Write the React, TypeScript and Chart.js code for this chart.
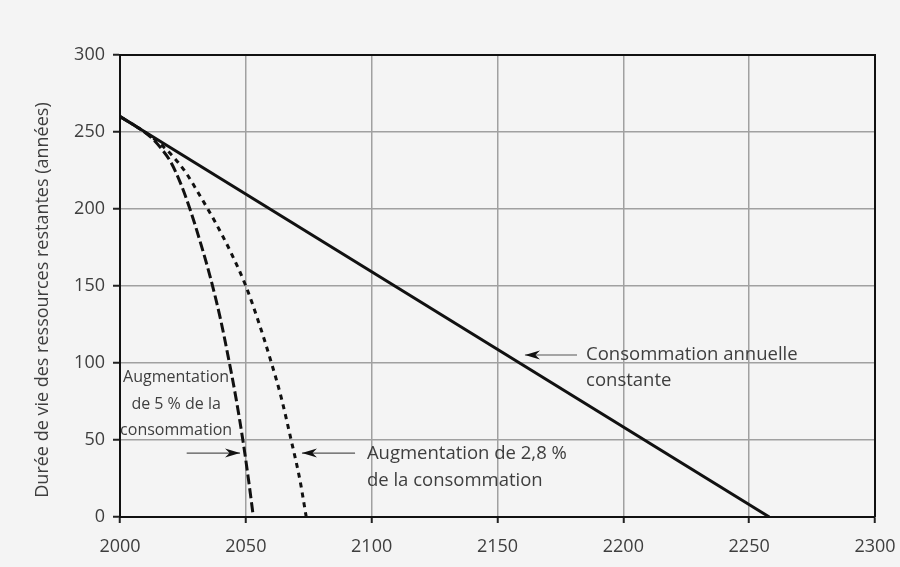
import React, { useEffect, useRef } from "react";
import { Chart, registerables } from "chart.js";

Chart.register(...registerables);

// ---- data ----
const xTickValues = [2000, 2050, 2100, 2150, 2200, 2250, 2300];
const yTickValues = [0, 50, 100, 150, 200, 250, 300];

const constYears = [2000, 2258];
const constValues = [260, 0];

const g5Years = [2000, 2006, 2012, 2016, 2020, 2024, 2028, 2032, 2036, 2040, 2043, 2046, 2049, 2051, 2053];
const g5Values = [260, 254, 247, 240, 231, 217, 199, 178, 155, 128, 104, 78, 48, 25, 0];

const g28Years = [2000, 2008, 2014, 2020, 2026, 2032, 2038, 2044, 2050, 2055, 2060, 2064, 2068, 2071.5, 2074];
const g28Values = [260, 252, 245, 236, 224, 208, 191, 172, 150, 127, 101, 78, 50, 24, 0];

const yTitle = "Durée de vie des ressources restantes (années)";

const FONT = "'Open Sans', 'DejaVu Sans', sans-serif";
const TEXT_COLOR = "#3e3e3e";

function toPoints(xs: number[], ys: number[]) {
  return xs.map((x, i) => ({ x, y: ys[i] }));
}

function drawArrow(ctx: CanvasRenderingContext2D, x1: number, y1: number, x2: number, y2: number) {
  ctx.save();
  ctx.strokeStyle = "#555";
  ctx.lineWidth = 1.2;
  ctx.beginPath();
  ctx.moveTo(x1, y1);
  ctx.lineTo(x2, y2);
  ctx.stroke();
  const dir = Math.sign(x2 - x1) || 1;
  const len = 15;
  const hw = 4.5;
  ctx.fillStyle = "#111";
  ctx.beginPath();
  ctx.moveTo(x2, y2);
  ctx.lineTo(x2 - dir * len, y2 - hw);
  ctx.lineTo(x2 - dir * len * 0.7, y2);
  ctx.lineTo(x2 - dir * len, y2 + hw);
  ctx.closePath();
  ctx.fill();
  ctx.restore();
}

const overlayPlugin = {
  id: "overlay",
  beforeDraw(chart: any) {
    const ctx = chart.ctx;
    ctx.save();
    ctx.fillStyle = "#f4f4f4";
    ctx.fillRect(0, 0, chart.width, chart.height);
    ctx.restore();
  },
  afterDraw(chart: any) {
    const ctx: CanvasRenderingContext2D = chart.ctx;
    const { left, right, top, bottom } = chart.chartArea;
    const xs = chart.scales.x;
    const ys = chart.scales.y;
    const px = (v: number) => xs.getPixelForValue(v);
    const py = (v: number) => ys.getPixelForValue(v);

    // frame (top and right borders)
    ctx.save();
    ctx.strokeStyle = "#111";
    ctx.lineWidth = 2;
    ctx.beginPath();
    ctx.moveTo(left, top);
    ctx.lineTo(right, top);
    ctx.lineTo(right, bottom);
    ctx.stroke();
    ctx.restore();

    // y title
    ctx.save();
    ctx.translate(43, 300);
    ctx.rotate(-Math.PI / 2);
    ctx.fillStyle = TEXT_COLOR;
    ctx.font = `18px ${FONT}`;
    ctx.textAlign = "center";
    ctx.textBaseline = "middle";
    ctx.fillText(yTitle, 0, 0);
    ctx.restore();

    // annotations
    ctx.save();
    ctx.fillStyle = TEXT_COLOR;
    ctx.textBaseline = "middle";

    ctx.font = `18.5px ${FONT}`;
    ctx.textAlign = "left";
    ctx.fillText("Consommation annuelle", px(2185.2), py(105.2));
    ctx.fillText("constante", px(2185.2), py(88.3));

    ctx.fillText("Augmentation de 2,8 %", px(2098.1), py(40.9));
    ctx.fillText("de la consommation", px(2098.1), py(23.4));

    ctx.font = `16px ${FONT}`;
    ctx.textAlign = "center";
    ctx.fillText("Augmentation", px(2022.3), py(90.9));
    ctx.fillText("de 5 % de la", px(2022.3), py(73.4));
    ctx.fillText("consommation", px(2022.3), py(56.5));
    ctx.restore();

    drawArrow(ctx, px(2181.6), py(105.2), px(2160.9), py(105.2));
    drawArrow(ctx, px(2026.5), py(41.5), px(2047.7), py(41.5));
    drawArrow(ctx, px(2093.4), py(41.5), px(2072.3), py(41.5));
  },
};

export default function App() {
  const ref = useRef<HTMLCanvasElement | null>(null);

  useEffect(() => {
    document.body.style.margin = "0";
    const canvas = ref.current;
    if (!canvas) return;
    const chart = new Chart(canvas, {
      type: "line",
      data: {
        datasets: [
          {
            label: "Consommation annuelle constante",
            data: toPoints(constYears, constValues),
            borderColor: "#111",
            borderWidth: 3,
            pointRadius: 0,
            tension: 0,
          },
          {
            label: "Augmentation de 5 %",
            data: toPoints(g5Years, g5Values),
            borderColor: "#111",
            borderWidth: 3,
            borderDash: [10, 4],
            pointRadius: 0,
            cubicInterpolationMode: "monotone",
          },
          {
            label: "Augmentation de 2,8 %",
            data: toPoints(g28Years, g28Values),
            borderColor: "#111",
            borderWidth: 3,
            borderDash: [5, 5],
            pointRadius: 0,
            cubicInterpolationMode: "monotone",
          },
        ],
      },
      options: {
        animation: false,
        responsive: false,
        devicePixelRatio: 1,
        layout: { padding: { top: 55, right: 25, left: 0, bottom: 0 } },
        plugins: {
          legend: { display: false },
          tooltip: { enabled: false },
          title: { display: false },
        },
        scales: {
          x: {
            type: "linear",
            min: xTickValues[0],
            max: xTickValues[xTickValues.length - 1],
            afterBuildTicks: (scale: any) => {
              scale.ticks = xTickValues.map((v) => ({ value: v }));
            },
            afterFit: (scale: any) => {
              scale.height = 50;
              scale.paddingLeft = 0;
              scale.paddingRight = 0;
            },
            ticks: {
              color: TEXT_COLOR,
              font: { family: FONT, size: 18 },
              padding: 13,
              maxRotation: 0,
              callback: (v: any) => String(v),
            },
            grid: {
              color: "#a0a0a0",
              lineWidth: 1.5,
              tickColor: "#222",
              tickLength: 6,
              tickWidth: 2,
            },
            border: { display: true, color: "#111", width: 2 },
          },
          y: {
            type: "linear",
            min: yTickValues[0],
            max: yTickValues[yTickValues.length - 1],
            afterBuildTicks: (scale: any) => {
              scale.ticks = yTickValues.map((v) => ({ value: v }));
            },
            afterFit: (scale: any) => {
              scale.width = 120;
              scale.paddingTop = 0;
              scale.paddingBottom = 0;
            },
            ticks: {
              color: TEXT_COLOR,
              font: { family: FONT, size: 18 },
              padding: 8,
              callback: (v: any) => String(v),
            },
            grid: {
              color: "#a0a0a0",
              lineWidth: 1.5,
              tickColor: "#222",
              tickLength: 7,
              tickWidth: 2,
            },
            border: { display: true, color: "#111", width: 2 },
          },
        },
      },
      plugins: [overlayPlugin],
    } as any);
    return () => chart.destroy();
  }, []);

  return (
    <div style={{ position: "fixed", left: 0, top: 0, width: 900, height: 567 }}>
      <canvas ref={ref} width={900} height={567} />
    </div>
  );
}
